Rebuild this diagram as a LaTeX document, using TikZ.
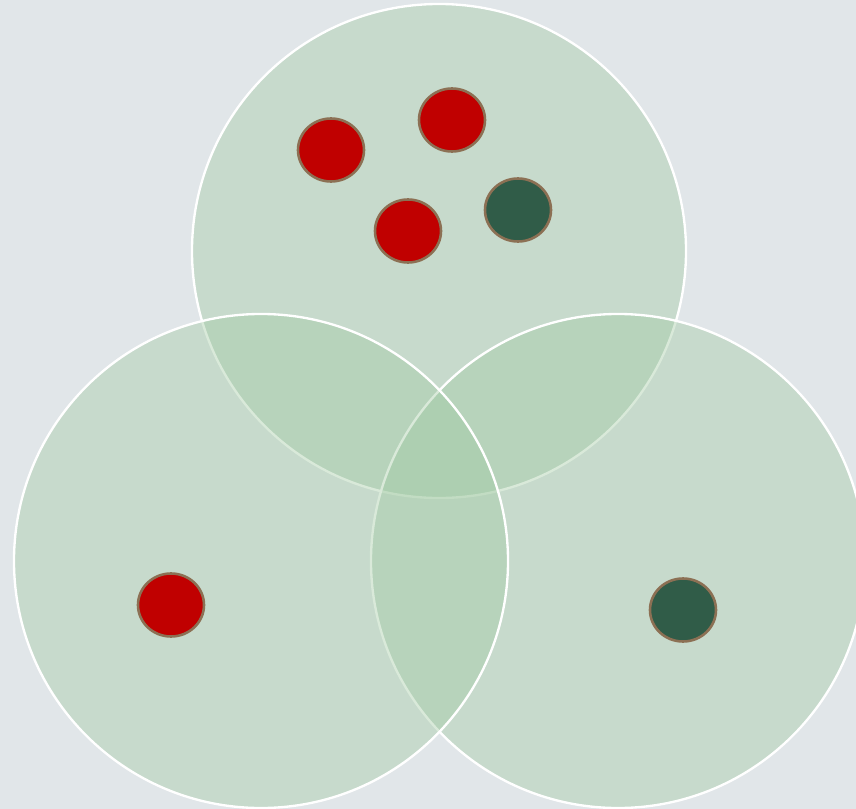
\documentclass[tikz,border=0pt]{standalone}
\usetikzlibrary{shapes.geometric}

\definecolor{bgcol}{RGB}{225,230,233}
\definecolor{setgreen}{RGB}{160,202,162}
\definecolor{dotred}{RGB}{192,0,0}
\definecolor{dotgreen}{RGB}{48,92,72}
\definecolor{dotrim}{RGB}{140,112,84}

\tikzset{
	setcircle/.style={circle, draw=white, line width=2pt, fill=setgreen, fill opacity=0.4, minimum size=14.82cm, inner sep=0pt},
	dot/.style={ellipse, draw=dotrim, line width=2.2pt, minimum width=1.98cm, minimum height=1.89cm, inner sep=0pt},
	reddot/.style={dot, fill=dotred},
	greendot/.style={dot, fill=dotgreen}
}

\begin{document}
\begin{tikzpicture}[x=0.03cm, y=-0.03cm]

		\fill[bgcol] (0,0) rectangle (856,809);
		\useasboundingbox (0,0) rectangle (856,809);
		\clip (0,0) rectangle (856,809);

		% the three sets
		\node[setcircle] (top) at (439,251) {};
		\node[setcircle] (right) at (618,561) {};
		\node[setcircle] (left) at (261,561) {};

		% members of the top set
		\node[reddot] (redA) at (331,150) {};
		\node[reddot] (redB) at (452,120) {};
		\node[reddot] (redC) at (408,231) {};
		\node[greendot] (greenA) at (518,210) {};

		% members of the lower sets
		\node[reddot] (redD) at (171,605) {};
		\node[greendot] (greenB) at (683,610) {};

	\end{tikzpicture}
\end{document}
